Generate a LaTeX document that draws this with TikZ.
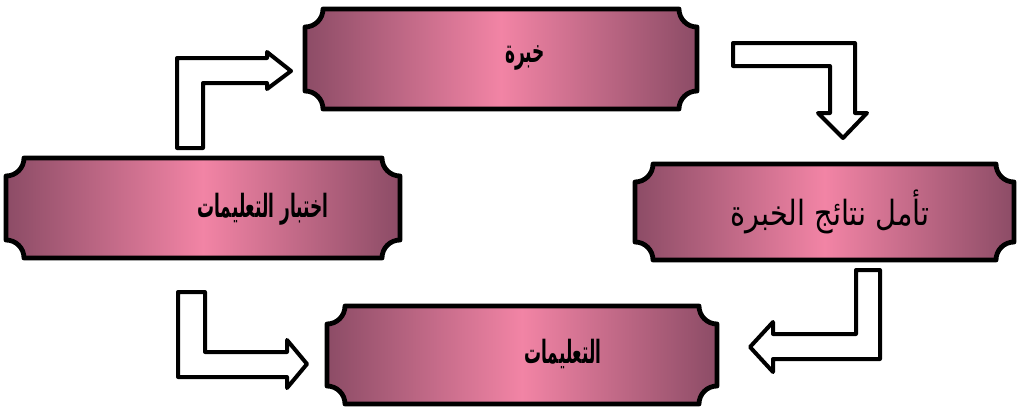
\documentclass[tikz,border=0pt]{standalone}
\usepackage{fontspec}
\newfontfamily\arabicfont[Script=Arabic,FakeStretch=0.53]{DejaVu Sans}
\newfontfamily\arabicreg[Script=Arabic,FakeStretch=0.83]{DejaVu Sans}
\TeXXeTstate=1
\definecolor{pdark}{RGB}{140,76,102}
\definecolor{plight}{RGB}{242,132,165}
\tikzset{
  plaquestyle/.style={draw=black, line width=3.6pt, line join=round,
    left color=pdark, right color=pdark, middle color=plight},
  blockarrow/.style={draw=black, fill=white, line width=3pt, line join=round},
  boldlbl/.style={inner sep=0pt, font=\arabicfont\bfseries\fontsize{24}{28}\selectfont},
  reglbl/.style={inner sep=0pt, font=\arabicreg\fontsize{26}{30}\selectfont},
}
\newcommand{\plaquebox}[4]{%
  \path[plaquestyle] (#1+18,-#2) -- (#3-18,-#2)
    arc[start angle=180,end angle=270,radius=13.5pt] -- (#3,-#4+18)
    arc[start angle=90,end angle=180,radius=13.5pt] -- (#1+18,-#4)
    arc[start angle=0,end angle=90,radius=13.5pt] -- (#1,-#2-18)
    arc[start angle=270,end angle=360,radius=13.5pt] -- cycle;}
\begin{document}
\begin{tikzpicture}[x=0.75pt,y=0.75pt]
\useasboundingbox (0,0) rectangle (1017,-408);
% boxes
\plaquebox{305}{9}{697}{109}
\plaquebox{6}{158}{400}{258}
\plaquebox{635}{164}{1014}{260}
\plaquebox{327}{306}{717}{404}
% labels
\node[boldlbl] (khibra) at (525,-58) {\beginR خبرة\endR};
\node[boldlbl] (ikhtibar) at (263,-209) {\beginR اختبار التعليمات\endR};
\node[reglbl] (taammul) at (830,-212) {\beginR تأمل نتائج الخبرة\endR};
\node[boldlbl] (taalimat) at (563,-354) {\beginR التعليمات\endR};
% block arrows
\path[blockarrow] (177,-148) -- (177,-58) -- (267,-58) -- (267,-52) -- (291,-71)
  -- (267,-89) -- (267,-83) -- (203,-83) -- (203,-148) -- cycle;
\path[blockarrow] (733,-43) -- (855,-43) -- (855,-113) -- (867,-113) -- (843,-138)
  -- (818,-113) -- (830,-113) -- (830,-66) -- (733,-66) -- cycle;
\path[blockarrow] (856,-270) -- (880,-270) -- (880,-359) -- (773,-359) -- (773,-372)
  -- (750,-347) -- (773,-322) -- (773,-334) -- (856,-334) -- cycle;
\path[blockarrow] (178,-292) -- (205,-292) -- (205,-352) -- (287,-352) -- (287,-340)
  -- (307,-364) -- (287,-388) -- (287,-377) -- (178,-377) -- cycle;
\end{tikzpicture}
\end{document}
